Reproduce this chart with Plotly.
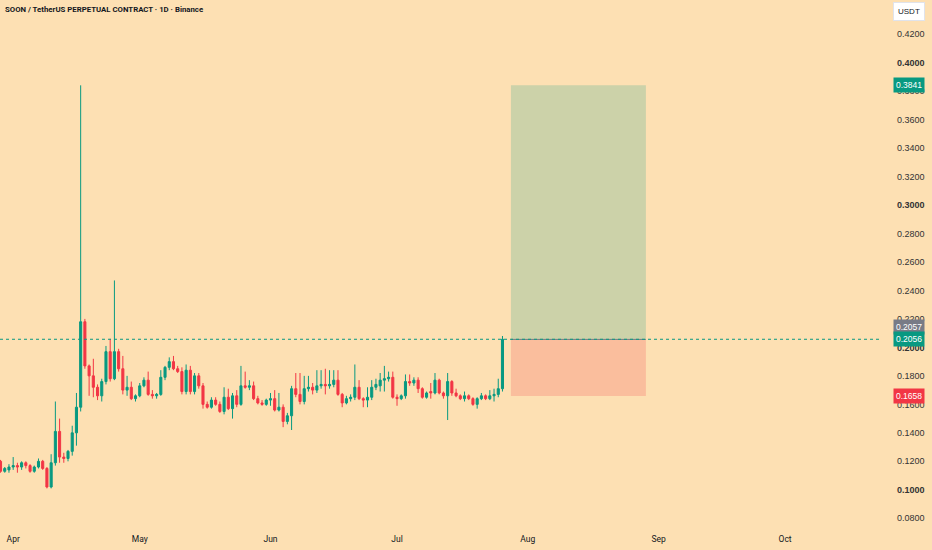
import pandas as pd
import plotly.graph_objects as go


TITLE = 'SOON / TetherUS PERPETUAL CONTRACT · 1D · Binance'

START_DATE = '2025-03-29'

OPEN = [
    .120, .113, .114, .116, .117, .116, .119, .117, .113, .116,
    .120, .115, .102, .119, .141, .123, .122, .127, .140, .158,
    .218, .187, .180, .172, .166, .176, .197, .178, .197, .185,
    .170, .172, .164, .166, .173, .177, .167, .166, .167, .179,
    .186, .190, .185, .183, .169, .184, .169, .180, .173, .160,
    .158, .163, .160, .155, .165, .157, .166, .160, .173, .172,
    .173, .164, .161, .160, .163, .164, .156, .158, .148, .152,
    .171, .167, .162, .171, .172, .170, .173, .174, .173, .174,
    .177, .167, .161, .164, .165, .172, .164, .163, .165, .172,
    .173, .177, .178, .179, .165, .164, .166, .176, .175, .177,
    .171, .165, .169, .168, .177, .168, .166, .176, .168, .166,
    .164, .166, .164, .160, .164, .166, .164, .166, .167, .171,
]

HIGH = [
    .121, .116, .118, .123, .119, .120, .120, .118, .117, .122,
    .121, .116, .125, .162, .150, .126, .128, .145, .168, .384,
    .220, .188, .192, .174, .178, .201, .206, .247, .199, .194,
    .180, .176, .167, .175, .179, .183, .170, .168, .184, .187,
    .193, .194, .187, .186, .188, .187, .182, .182, .175, .162,
    .165, .165, .162, .172, .171, .168, .170, .187, .183, .177,
    .176, .166, .163, .164, .168, .170, .168, .160, .154, .173,
    .182, .182, .180, .180, .175, .184, .184, .185, .184, .184,
    .184, .168, .166, .167, .188, .177, .165, .172, .177, .178,
    .182, .187, .183, .183, .167, .167, .181, .181, .179, .179,
    .172, .169, .175, .182, .178, .169, .182, .177, .171, .167,
    .169, .167, .165, .165, .168, .167, .170, .171, .178, .208,
]

LOW = [
    .112, .112, .112, .114, .112, .114, .115, .112, .112, .115,
    .114, .101, .101, .117, .119, .119, .120, .124, .131, .155,
    .185, .166, .165, .163, .162, .174, .176, .177, .183, .167,
    .166, .163, .162, .165, .172, .166, .164, .164, .166, .177,
    .184, .184, .182, .167, .167, .167, .167, .171, .157, .157,
    .157, .159, .154, .153, .156, .150, .158, .159, .171, .170,
    .163, .160, .159, .159, .159, .155, .155, .144, .146, .142,
    .165, .160, .160, .169, .167, .168, .171, .167, .171, .172,
    .166, .158, .160, .162, .163, .163, .158, .158, .163, .170,
    .169, .169, .176, .164, .159, .163, .164, .173, .173, .168,
    .164, .164, .164, .167, .167, .164, .149, .166, .165, .163,
    .162, .163, .159, .157, .163, .163, .163, .162, .165, .169,
]

CLOSE = [
    .113, .115, .116, .117, .116, .119, .117, .113, .116, .120,
    .115, .102, .119, .141, .123, .122, .127, .140, .158, .218,
    .187, .180, .172, .166, .176, .197, .178, .197, .185, .170,
    .172, .164, .166, .173, .177, .167, .166, .167, .179, .186,
    .190, .185, .183, .169, .184, .169, .180, .173, .160, .158,
    .163, .160, .155, .165, .157, .166, .160, .173, .172, .173,
    .164, .161, .160, .163, .164, .156, .158, .148, .152, .171,
    .167, .162, .171, .172, .170, .173, .174, .173, .174, .177,
    .167, .161, .164, .165, .172, .164, .163, .165, .172, .174,
    .177, .178, .179, .165, .164, .166, .176, .175, .177, .171,
    .165, .168, .168, .177, .168, .166, .176, .168, .166, .164,
    .166, .164, .160, .164, .166, .164, .166, .167, .171, .2057,
]

# Long position tool.
BOX_START = '2025-07-28'
BOX_END = '2025-08-29'
TARGET = 0.3841
ENTRY = 0.2056
STOP = 0.1658

PRICE_TICKS = [0.08, 0.10, 0.12, 0.14, 0.16, 0.18, 0.20, 0.22, 0.24,
               0.26, 0.28, 0.30, 0.32, 0.34, 0.36, 0.38, 0.40, 0.42]
BOLD_TICKS = [0.10, 0.20, 0.30, 0.40]
MONTH_TICKS = ['2025-04-01', '2025-05-01', '2025-06-01', '2025-07-01',
               '2025-08-01', '2025-09-01', '2025-10-01']
MONTH_LABELS = ['Apr', 'May', 'Jun', 'Jul', 'Aug', 'Sep', 'Oct']

BG = '#fde0b3'
GREEN = '#089981'
RED = '#f23645'
GREY = '#787b86'
TEXT = '#131722'
FONT = 'Liberation Sans'
NARROW = 'Roboto'


def tick_text(v):
    s = f'{v:.4f}'
    if any(abs(v - b) < 1e-9 for b in BOLD_TICKS):
        return f'<b>{s}</b>'
    return s


def badge(value, color, shift=0):
    return dict(
        xref='paper', yref='y', x=1, y=value, xanchor='left',
        yanchor='middle', xshift=13, yshift=shift,
        text=f'{value:.4f}', showarrow=False,
        font=dict(family=FONT, size=8.5, color='white'),
        bgcolor=color, borderpad=2,
    )


dates = pd.date_range(START_DATE, periods=len(CLOSE), freq='D')
last_price = CLOSE[-1]

fig = go.Figure(go.Candlestick(
    x=dates, open=OPEN, high=HIGH, low=LOW, close=CLOSE,
    increasing=dict(line=dict(color=GREEN, width=1), fillcolor=GREEN),
    decreasing=dict(line=dict(color=RED, width=1), fillcolor=RED),
    whiskerwidth=0, showlegend=False, hoverinfo='skip',
))

# Profit and loss zones.
fig.add_shape(type='rect', x0=BOX_START, x1=BOX_END, y0=ENTRY, y1=TARGET,
              fillcolor='rgba(8,153,129,0.2)', line_width=0, layer='below')
fig.add_shape(type='rect', x0=BOX_START, x1=BOX_END, y0=STOP, y1=ENTRY,
              fillcolor='rgba(242,54,69,0.2)', line_width=0, layer='below')
fig.add_shape(type='line', x0=BOX_START, x1=BOX_END, y0=ENTRY, y1=ENTRY,
              line=dict(color=GREY, width=1))

# Last price line.
fig.add_shape(type='line', xref='paper', x0=0, x1=1, y0=last_price,
              y1=last_price, line=dict(color=GREEN, width=1, dash='dot'))

fig.update_layout(
    width=932, height=550,
    margin=dict(l=0, r=52, t=0, b=18),
    paper_bgcolor=BG, plot_bgcolor=BG,
    font=dict(family=FONT, size=9, color=TEXT),
    showlegend=False,
    annotations=[
        dict(xref='paper', yref='paper', x=0, y=1, xanchor='left',
             yanchor='top', xshift=3, yshift=-3, showarrow=False,
             text=f'<b>{TITLE}</b>',
             font=dict(family=NARROW, size=7.8, color=TEXT)),
        dict(xref='paper', yref='paper', x=1, y=1, xanchor='left',
             yanchor='top', xshift=13, yshift=-2, showarrow=False,
             text='USDT', font=dict(family=FONT, size=8, color=TEXT),
             bgcolor='white', bordercolor='#e0e3eb', borderwidth=1,
             borderpad=4),
        badge(TARGET, GREEN),
        badge(last_price, GREY, 12),
        badge(ENTRY, GREEN),
        badge(STOP, RED),
    ],
)

fig.update_xaxes(
    range=['2025-03-28 21:00', '2025-10-23 12:00'],
    rangeslider_visible=False,
    tickvals=MONTH_TICKS, ticktext=MONTH_LABELS,
    showgrid=False, zeroline=False, showline=False, ticks='',
    tickfont=dict(family=NARROW, size=8.5, color=TEXT),
)

fig.update_yaxes(
    side='right',
    range=[0.2 - 186 / 1435, 0.2 + 350 / 1435],
    tickvals=PRICE_TICKS, ticktext=[tick_text(v) for v in PRICE_TICKS],
    showgrid=False, zeroline=False, showline=False, ticks='',
    ticklabelstandoff=16,
    tickfont=dict(size=9, color='#333333'),
)

# Drop the page margin so the figure fills the window.
fig.write_html('out.html', config={'displayModeBar': False},
               post_script="document.body.style.margin='0';")
